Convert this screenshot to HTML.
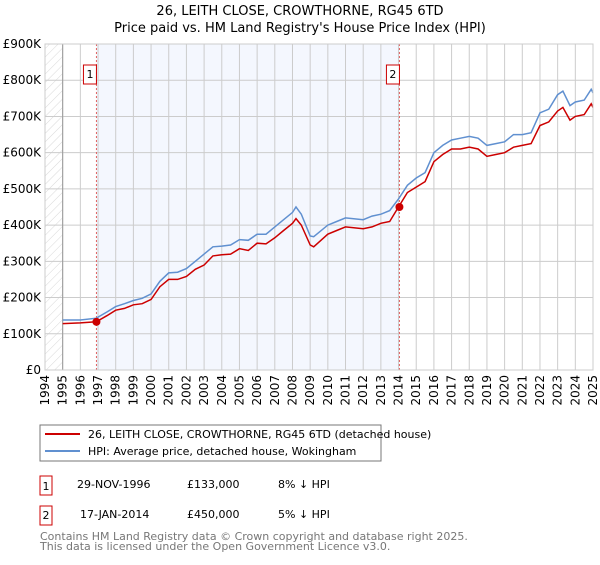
<!DOCTYPE html>
<html><head><meta charset="utf-8"><style>
body{margin:0;background:#fff;font-family:"Liberation Sans","DejaVu Sans",sans-serif}
text{font-family:"DejaVu Sans","Liberation Sans",sans-serif}
</style></head><body>
<svg id="c" width="600" height="560" xmlns="http://www.w3.org/2000/svg">
<defs><pattern id="hatch" width="6" height="6" patternUnits="userSpaceOnUse" patternTransform="rotate(45)"><line x1="0" y1="0" x2="0" y2="6" stroke="#d8d8d8" stroke-width="1"/></pattern></defs>
<text x="300" y="15" text-anchor="middle" font-size="13">26, LEITH CLOSE, CROWTHORNE, RG45 6TD</text>
<text x="300" y="32" text-anchor="middle" font-size="13">Price paid vs. HM Land Registry's House Price Index (HPI)</text>
<g id="plot"></g>
<g>
<rect x="40" y="425" width="341" height="36" fill="#fff" stroke="#777"/>
<line x1="45" y1="434" x2="80" y2="434" stroke="#cc0000" stroke-width="2"/>
<text x="88" y="438" font-size="11">26, LEITH CLOSE, CROWTHORNE, RG45 6TD (detached house)</text>
<line x1="45" y1="451" x2="80" y2="451" stroke="#6090d0" stroke-width="2"/>
<text x="88" y="455" font-size="11">HPI: Average price, detached house, Wokingham</text>
</g>
<g font-size="11">
<rect x="40" y="476" width="12" height="19" fill="#fff" stroke="#cc0000"/><text x="46" y="490" text-anchor="middle">1</text>
<text x="77" y="488">29-NOV-1996</text><text x="187" y="488">£133,000</text><text x="278" y="488">8% ↓ HPI</text>
<rect x="40" y="506" width="12" height="19" fill="#fff" stroke="#cc0000"/><text x="46" y="519" text-anchor="middle">2</text>
<text x="80" y="518">17-JAN-2014</text><text x="187" y="518">£450,000</text><text x="278" y="518">5% ↓ HPI</text>
</g>
<text x="40" y="540" font-size="11" fill="#777">Contains HM Land Registry data © Crown copyright and database right 2025.</text>
<text x="40" y="550" font-size="11" fill="#777">This data is licensed under the Open Government Licence v3.0.</text>
</svg>
<script>
const dates=[1995,1996,1996.9,1997.5,1998,1998.5,1999,1999.5,2000,2000.5,2001,2001.5,2002,2002.5,2003,2003.5,2004,2004.5,2005,2005.5,2006,2006.5,2007,2007.5,2008,2008.2,2008.5,2009,2009.2,2010,2010.5,2011,2012,2012.5,2013,2013.5,2014,2014.5,2015,2015.5,2016,2016.5,2017,2017.5,2018,2018.5,2019,2019.5,2020,2020.5,2021,2021.5,2022,2022.5,2023,2023.3,2023.7,2024,2024.5,2024.9,2025];
const hpiValues=[138,138,143,160,175,183,192,198,210,245,268,270,280,300,320,340,342,345,360,358,375,375,395,415,435,450,430,370,368,400,410,420,415,425,430,440,472,510,530,545,600,620,635,640,645,640,620,625,630,650,650,655,710,720,760,770,730,740,745,775,765];
const priceValues=[128,130,133,150,165,170,180,183,195,230,250,250,258,278,290,315,318,320,335,330,350,348,365,385,405,418,400,345,340,375,385,395,390,395,405,410,450,490,505,520,575,595,610,610,615,610,590,595,600,615,620,625,675,685,715,725,690,700,705,735,725];
const saleDates=[1996.91,2014.05];
const saleValues=[133,450];
const saleLabels=["1","2"];
const yTicks=[0,100,200,300,400,500,600,700,800,900];
const yTickLabels=["£0","£100K","£200K","£300K","£400K","£500K","£600K","£700K","£800K","£900K"];
const xYears=[];for(let y=1994;y<=2025;y++)xYears.push(y);
const L=45,R=593,T=44,B=370;
const xs=d=>L+(d-1994)/(2025-1994)*(R-L);
const ys=v=>B-v/900*(B-T);
const NS="http://www.w3.org/2000/svg";
const g=document.getElementById('plot');
function mk(t,a){const e=document.createElementNS(NS,t);for(const k in a)e.setAttribute(k,a[k]);g.appendChild(e);return e;}
let e;
e=mk('rect',{x:L,y:T,width:xs(1995)-L,height:B-T,fill:'url(#hatch)'});


e=mk('rect',{x:xs(saleDates[0]),y:T,width:xs(saleDates[1])-xs(saleDates[0]),height:B-T,fill:'#f4f7fe'});


yTicks.forEach((v,i)=>{
 e=mk('line',{x1:L,x2:R,y1:ys(v),y2:ys(v),stroke:'#ccc','stroke-width':1});
 
 
 e=mk('text',{x:L-4,y:ys(v)+4,'text-anchor':'end','font-size':12});
 e.textContent=yTickLabels[i];
 
 
});
xYears.forEach(y=>{
 e=mk('line',{x1:xs(y),x2:xs(y),y1:T,y2:B,stroke:'#ccc','stroke-width':1});
 
 
 e=mk('text',{x:0,y:0,'text-anchor':'end','font-size':12,transform:`translate(${xs(y)+4},${B+5}) rotate(-90)`});
 e.textContent=y;
 
 
});
e=mk('line',{x1:xs(1995),x2:xs(1995),y1:T,y2:B,stroke:'#999'});


saleDates.forEach((d,i)=>{
 e=mk('line',{x1:xs(d),x2:xs(d),y1:T,y2:B,stroke:'#e06060','stroke-dasharray':'2,2'});
 
 
});
const path=(vals)=>dates.map((d,i)=>(i?'L':'M')+xs(d).toFixed(1)+','+ys(vals[i]).toFixed(1)).join('');
e=mk('path',{d:path(hpiValues),fill:'none',stroke:'#6090d0','stroke-width':1.5});


e=mk('path',{d:path(priceValues),fill:'none',stroke:'#cc0000','stroke-width':1.5});


saleDates.forEach((d,i)=>{
 e=mk('circle',{cx:xs(d),cy:ys(saleValues[i]),r:4,fill:'#cc0000'});
 
 
 e=mk('rect',{x:xs(d)-13,y:65,width:13,height:19,fill:'#fff',stroke:'#cc0000'});
 
 
 e=mk('text',{x:xs(d)-6.5,y:78,'text-anchor':'middle','font-size':11});
 e.textContent=saleLabels[i];
 
 
});
e=mk('rect',{x:L,y:T,width:R-L,height:B-T,fill:'none',stroke:'#ccc'});


</script>
</body></html>
